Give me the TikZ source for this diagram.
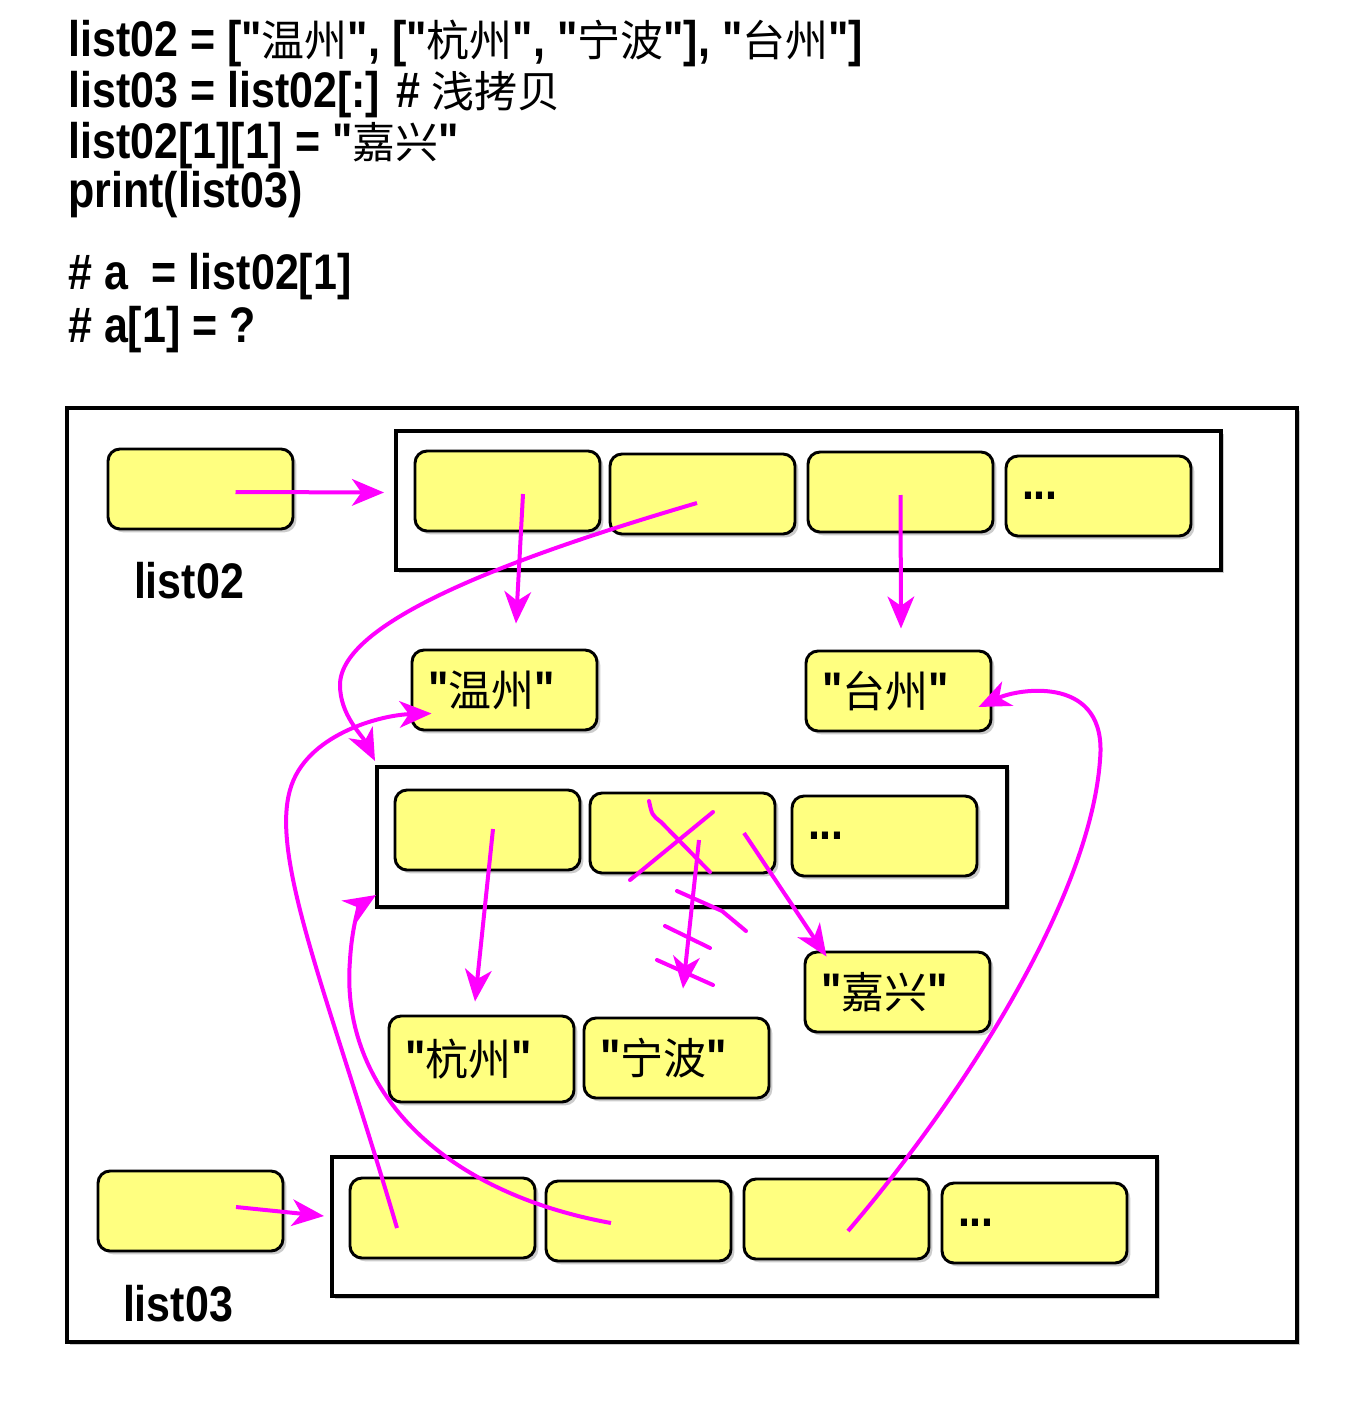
\documentclass[tikz,border=0pt]{standalone}
\usepackage{fontspec}
\setmainfont{Liberation Sans}
\newfontfamily\codefont{Liberation Sans}[FakeStretch=0.86]
\newfontfamily\cjk{Noto Sans CJK SC}[Scale=0.86]
\newcommand{\zh}[1]{{\cjk\mdseries #1}}
\usetikzlibrary{positioning,arrows.meta,calc,shadows}
\definecolor{cellyellow}{RGB}{255,255,128}
\definecolor{linkpink}{RGB}{255,0,255}

\begin{document}
\begin{tikzpicture}[
    x=0.75pt, y=-0.75pt,
    font=\codefont\bfseries\fontsize{37.5}{45}\selectfont,
    codeline/.style={anchor=base west, inner sep=0pt},
    caption/.style={inner sep=0pt},
    shade/.style={drop shadow={shadow xshift=2.5pt, shadow yshift=-2.5pt, opacity=0.4}},
    frame/.style={draw, line width=2.6pt, fill=white, minimum width=922.5pt,
                  minimum height=700.5pt, shade},
    listbox/.style={draw, line width=3pt, fill=white, minimum height=104.25pt, shade},
    cell/.style={draw, line width=2.2pt, rounded corners=9pt, fill=cellyellow,
                 minimum width=138.75pt, minimum height=60pt, shade},
    strcell/.style={cell, text width=114.75pt, inner xsep=12pt, align=left},
    ptr/.style={linkpink, line width=3pt, -{Stealth[length=24pt,width=20pt,inset=7pt]}},
    strike/.style={linkpink, line width=3pt, line cap=round, line join=round},
  ]
    \useasboundingbox (0,0) rectangle (1352,1426);

    % Code
    \node[codeline] (code1) at (68,57)
        {list02 = ["\zh{温州}", ["\zh{杭州}", "\zh{宁波}"], "\zh{台州}"]};
    \node[codeline] (code2) at (68,108) {list03 = list02[:] \# \zh{浅拷贝}};
    \node[codeline] (code3) at (68,159) {list02[1][1] = "\zh{嘉兴}"};
    \node[codeline] (code4) at (68,208) {print(list03)};
    \node[codeline] (code5) at (68,290) {\# a\ \ = list02[1]};
    \node[codeline] (code6) at (68,342) {\# a[1] = ?};

    % Memory frame
    \node[frame] (mem) at (682,875) {};

    % list02
    \node[cell] (p02) at (200.5,489) {};
    \node[caption] (l02) at (189,581) {list02};
    \node[listbox, minimum width=618.75pt] (c02) at (808.5,500.5) {};
    \node[cell] (a1) at (507.5,491) {};
    \node[cell] (a2) at (702.5,494) {};
    \node[cell] (a3) at (900.5,492) {};
    \node[strcell] (a4) at (1098.5,496) {...};

    % Strings
    \node[strcell] (wz) at (504.5,690) {"\zh{温州}"};
    \node[strcell] (tz) at (898.5,691) {"\zh{台州}"};

    % Inner list
    \node[listbox, minimum width=472.5pt, minimum height=105pt] (cin) at (692,837) {};
    \node[cell] (b1) at (487.5,830) {};
    \node[cell] (b2) at (682.5,833) {};
    \node[strcell] (b3) at (884.5,836) {...};
    \node[strcell] (jx) at (897.5,992) {"\zh{嘉兴}"};
    \node[strcell, minimum height=64.5pt] (hz) at (481.5,1059) {"\zh{杭州}"};
    \node[strcell] (nb) at (676.5,1058) {"\zh{宁波}"};

    % list03
    \node[cell] (p03) at (190.5,1211) {};
    \node[caption] (l03) at (178,1304) {list03};
    \node[listbox, minimum width=618.75pt] (c03) at (744.5,1226.5) {};
    \node[cell] (d1) at (442.5,1218) {};
    \node[cell] (d2) at (638.5,1221) {};
    \node[cell] (d3) at (836.5,1219) {};
    \node[strcell] (d4) at (1034.5,1223) {...};

    % References
    \draw[ptr] ($(p02)+(35,3)$) -- ($(c02.west)+(-10,-8)$);
    \draw[ptr] ($(a1)+(15.5,3)$) -- ($(wz.north)+(11.5,-25)$);
    \draw[ptr] ($(a2)+(-5.5,9)$) .. controls (520,555) and (340,620) .. (340,685)
        .. controls (340,715) and (362,735) .. ($(cin.north west)+(0,-4)$);
    \draw[ptr] ($(a3)+(0,3)$) -- ($(tz.north)+(2.5,-21)$);
    \draw[ptr] ($(b1)+(5.5,-1)$) -- ($(hz.north)+(-6.5,-13)$);
    \draw[ptr] ($(b2)+(16.5,7)$) -- ($(nb.north)+(6.5,-28)$);
    \draw[ptr] ($(b2)+(61.5,0)$) -- ($(jx.north west)+(23,6)$);
    \draw[ptr] ($(p03)+(45.5,-4)$) -- ($(c03.west)+(-6,-10.5)$);
    \draw[ptr] ($(d1)+(-45.5,10)$) .. controls (330,1000) and (270,860) .. (290,790)
        .. controls (305,735) and (380,715) .. ($(wz.south west)+(21,-18)$);
    \draw[ptr] ($(d2)+(-27.5,2)$) .. controls (430,1190) and (340,1080) .. (350,960)
        .. controls (352,925) and (360,905) .. ($(cin.south west)+(1,-14)$);
    \draw[ptr] ($(d3)+(11.5,12)$) .. controls (960,1100) and (1090,900) .. (1100,760)
        .. controls (1108,675) and (1020,688) .. ($(tz.east)+(-14,16)$);

    % Crossed out
    \draw[strike] (649,801) .. controls (652,815) .. (661,822) -- (710,872);
    \draw[strike] (713,812) -- (630,880);
    \draw[strike] (677,891) -- (722,911) -- (746,931);
    \draw[strike] (665,926) -- (710,948);
    \draw[strike] (657,960) -- (713,985);
\end{tikzpicture}
\end{document}
